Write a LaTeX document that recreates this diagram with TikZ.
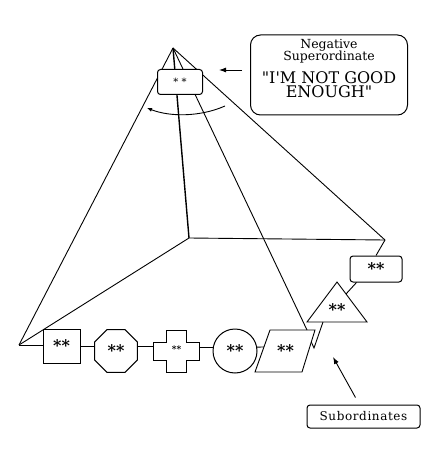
\documentclass[tikz,border=0pt]{standalone}
\usepackage{fontspec}
\setmainfont{DejaVu Serif}
\newfontfamily\qfont{DejaVu Serif}
\newfontfamily\subfont[LetterSpace=5]{DejaVu Serif}
\usetikzlibrary{arrows.meta,calc,backgrounds,shapes.geometric}
\begin{document}
\begin{tikzpicture}[x=1pt,y=-1pt,
  ln/.style={line width=0.9pt},
  box/.style={draw, line width=1pt, fill=white, inner sep=0pt},
  stars/.style={font=\bfseries\fontsize{16}{16}\selectfont},
  tip/.style={-{Latex[length=7pt,width=5pt]}}]
\useasboundingbox (0,0) rectangle (440,457);

% pyramid corners
\coordinate (A) at (173,48);
\coordinate (B) at (189,238);
\coordinate (L) at (19,345);
\coordinate (R) at (385,240);

% top box and callout
\node[box, rounded corners=3pt, minimum width=45pt, minimum height=25pt,
      font=\fontsize{10}{10}\selectfont] (sup) at (180,82) {*\,\,*};
\node[box, rounded corners=10pt, minimum width=157pt, minimum height=80pt] (neg) at (329,75) {};
\node[align=center, inner sep=0pt, anchor=north, font=\fontsize{12.5}{12.5}\selectfont] (negtext) at (329,39)
  {Negative\\Superordinate\\[7pt]
   {\qfont\fontsize{16}{16}\selectfont "I'M NOT GOOD}\\[2pt]
   {\qfont\fontsize{16}{16}\selectfont ENOUGH"}};
\coordinate (negtip) at (219,70);
\draw[ln, tip] ($(neg.west)+(-8,-5)$) -- (negtip);

% angle arc
\coordinate (arcL) at (147,108);
\coordinate (arcR) at (225,106);
\draw[ln, {Latex[length=5pt,width=4pt]}-] (arcL) .. controls (170,117) and (200,117) .. (arcR);

% bottom chain of shapes
\node[box, minimum width=37pt, minimum height=34pt, stars] (sq) at (61.5,346) {**};
\node[box, regular polygon, regular polygon sides=8, minimum size=46.5pt, stars] (oct) at (116,351) {**};
\node[inner sep=0pt, minimum width=46pt, minimum height=42pt,
      font=\bfseries\fontsize{9}{9}\selectfont] (crs) at (176.5,349) {**};
\draw[ln, shift={(176.5,351)}] (-10,-21) -- (10,-21) -- (10,-9) -- (23,-9) -- (23,9)
  -- (10,9) -- (10,21) -- (-10,21) -- (-10,9) -- (-23,9) -- (-23,-9) -- (-10,-9) -- cycle;
\node[box, circle, minimum size=44pt, stars] (cir) at (235,351) {**};
\node[inner sep=0pt, minimum width=47pt, minimum height=42pt, stars] (par) at (285.5,351) {**};
\draw[ln, shift={(par.center)}] (-30.5,21) -- (-15.5,-21) -- (29.5,-21) -- (16.5,21) -- cycle;
\begin{scope}[shift={(par.center)}]
  \coordinate (parW) at (-21.6,-4);
  \coordinate (parE) at (25.8,-9);
  \coordinate (P) at (21.5,-21);
\end{scope}
\node[inner sep=0pt, minimum width=60pt, minimum height=40pt, stars] (tri) at (337,310) {**};
\draw[ln, shift={(tri.center)}] (0,-28) -- (30,12) -- (-30,12) -- cycle;
\begin{scope}[shift={(tri.center)}]
  \coordinate (triB) at (-14,12);
  \coordinate (triR) at (9,-16);
\end{scope}
\node[box, rounded corners=3pt, minimum width=52pt, minimum height=26pt, stars] (rb) at (376,269) {**};
\coordinate (F) at (314,348);

\draw[ln] (L) -- (L -| sq.west);
\draw[ln] (sq.east) -- (sq.east -| oct.west);
\draw[ln] (oct.east |- sq.east) -- (crs.west |- sq.east);
\draw[ln] (crs.east |- cir.170) -- (cir.170);
\draw[ln] (cir.10) -- (parW);
\draw[ln] (parE) -- (F) -- (triB);
\draw[ln] (triR) -- ([xshift=7pt]rb.south west);
\draw[ln] (rb.north) -- (R);

% pyramid edges
\begin{scope}[on background layer]
  \draw[ln] (A) -- (L);
  \draw[line width=1.4pt] (A) -- (B);
  \draw[ln] (A) -- (R);
  \draw[ln] (A) -- (P);
  \draw[ln] (B) -- (L);
  \draw[ln] (B) -- (R);
\end{scope}

% subordinates label
\node[box, rounded corners=3pt, minimum width=113pt, minimum height=23pt,
      font=\subfont\fontsize{12}{12}\selectfont] (sub) at (363.5,416.5) {Subordinates};
\coordinate (subtip) at (333,357);
\draw[ln, tip] ($(sub.north)+(-8,-7)$) -- (subtip);
\end{tikzpicture}
\end{document}
